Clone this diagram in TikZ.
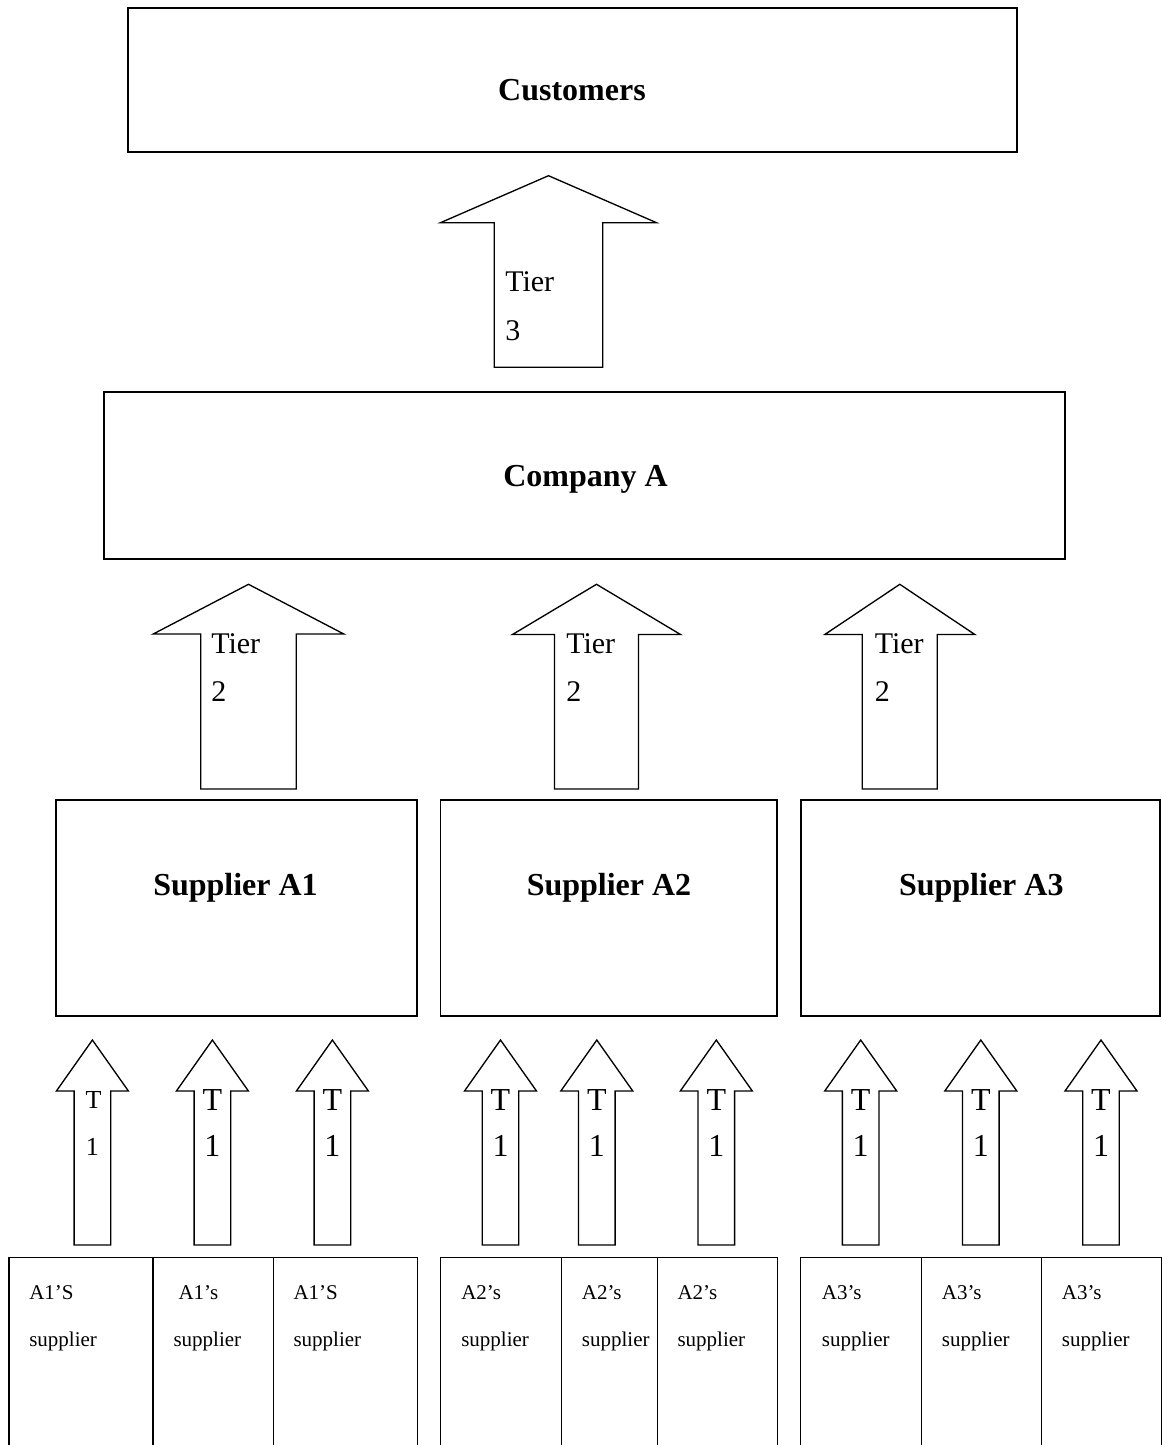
\documentclass[tikz,border=0pt]{standalone}
\usepackage{fontspec}
\setmainfont{Liberation Serif}
\begin{document}
\begin{tikzpicture}[x=0.75pt,y=-0.75pt,
  box/.style={draw, line width=1pt, inner sep=0pt, rectangle},
  title/.style={font=\fontsize{24}{28}\selectfont\bfseries, inner sep=0pt, anchor=base},
  arr/.style={draw, line width=1pt, line join=miter, fill=white},
  tiertxt/.style={font=\fontsize{22.5}{26}\selectfont, inner sep=0pt, anchor=base west},
  ttxt/.style={font=\fontsize{24}{28}\selectfont, inner sep=0pt, anchor=base},
  ttxtsmall/.style={font=\fontsize{19.5}{23}\selectfont, inner sep=0pt, anchor=base},
  stxt/.style={font=\fontsize{15.75}{19}\selectfont, inner sep=0pt, anchor=base west}]
\newcommand{\uparr}[7]{%
  \coordinate (#1) at (#2,#3);
  \draw[arr] (#2,#3) -- (#2+#6,#4) -- (#2+#7,#4) -- (#2+#7,#5) -- (#2-#7,#5) -- (#2-#7,#4) -- (#2-#6,#4) -- cycle;}
\clip (0,0) rectangle (1162,1445);
\fill[white] (0,0) rectangle (1162,1445);

% top boxes
\node[box, minimum width=666.75pt, minimum height=108pt] (cust) at (572.5,80) {};
\node[title] (custT) at (572,100) {Customers};

\uparr{tierthree}{548.5}{175.7}{222.7}{367.3}{108}{54.3}
\node[tiertxt] (tthreeA) at (505,291.7) {Tier};
\node[tiertxt] (tthreeB) at (505,340) {3};

\node[box, minimum width=720.75pt, minimum height=125.25pt] (comp) at (584.5,475.5) {};
\node[title] (compT) at (585.5,486) {Company A};

% tier 2 arrows
\uparr{tiertwoA}{248.5}{584.3}{634}{789}{95.3}{47.7}
\uparr{tiertwoB}{596.5}{584.3}{634.5}{789}{84}{42}
\uparr{tiertwoC}{899.8}{584.3}{634.5}{789}{75}{37.5}
\node[tiertxt] (ttwoA1) at (211,653.3) {Tier};
\node[tiertxt] (ttwoA2) at (211,701.7) {2};
\node[tiertxt] (ttwoB1) at (566,653.3) {Tier};
\node[tiertxt] (ttwoB2) at (566,701.7) {2};
\node[tiertxt] (ttwoC1) at (874.5,653.3) {Tier};
\node[tiertxt] (ttwoC2) at (874.5,701.7) {2};

% supplier boxes
\node[box, minimum width=270.75pt, minimum height=162pt] (supA) at (236.5,908) {};
\node[title] (supAT) at (235.5,895) {Supplier A1};
\node[box, minimum width=252.4pt, minimum height=162pt] (supB) at (608.75,908) {};
\node[title] (supBT) at (609,895) {Supplier A2};
\node[box, minimum width=269.25pt, minimum height=162pt] (supC) at (980.5,908) {};
\node[title] (supCT) at (981.3,895) {Supplier A3};

% T1 arrows
\foreach \cx/\nm in {92.4/a,212.4/b,332.4/c,500.5/d,596.8/e,716.3/f,860.7/g,980.8/h,1101/i}{
  \uparr{tone\nm}{\cx}{1040}{1091}{1245}{36}{18.3}
}
\node[ttxtsmall] (toneaT) at (93.5,1108) {T};
\node[ttxtsmall] (tonea1) at (92.4,1155) {1};
\foreach \cx/\nm in {212.4/b,332.4/c,500.5/d,596.8/e,716.3/f,860.7/g,980.8/h,1101/i}{
  \node[ttxt] (tone\nm T) at (\cx,1110) {T};
  \node[ttxt] (tone\nm 1) at (\cx,1156.7) {1};
}

% second-tier suppliers (open at the bottom)
\foreach \xl/\xr/\nm in {8.3/152.3/a,152.3/272.7/b,272.7/416.7/c,440/560.7/d,560.7/656.7/e,656.7/776.7/f,800/920.7/g,920.7/1040.7/h,1040.7/1160.7/i}{
  \node[box, minimum width={(\xr-\xl)*0.75pt}, minimum height=150pt, anchor=north west] (sub\nm) at (\xl,1256.7) {};
}
\foreach \x/\sx/\lbl/\nm in {29/29/A1’S/a,178.3/173.3/A1’s/b,293.3/293.3/A1’S/c,461/461/A2’s/d,581.7/581.7/A2’s/e,677.3/677.3/A2’s/f,821.7/821.7/A3’s/g,941.7/941.7/A3’s/h,1061.7/1061.7/A3’s/i}{
  \node[stxt] (subt\nm) at (\x,1299.3) {\lbl};
  \node[stxt] (subs\nm) at (\sx,1346.7) {supplier};
}
\end{tikzpicture}
\end{document}
